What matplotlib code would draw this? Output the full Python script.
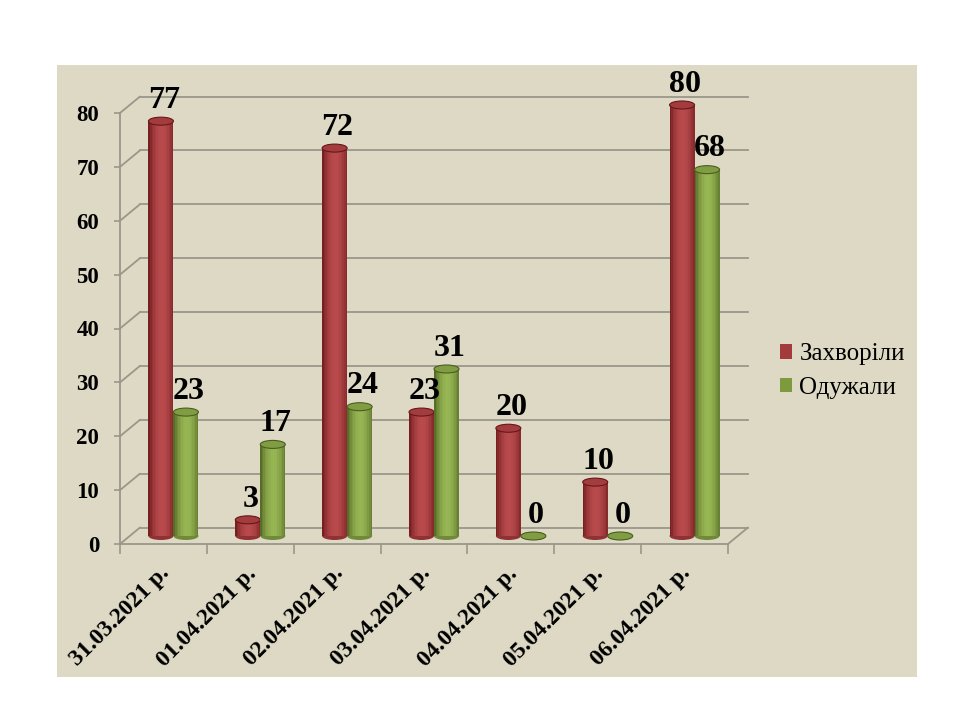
import numpy as np
import matplotlib
matplotlib.use("Agg")
import matplotlib.pyplot as plt
import matplotlib.transforms as mtransforms
from matplotlib.patches import Rectangle, Ellipse, Patch
from matplotlib.colors import to_rgb

# data
dates = ["31.03.2021 р.", "01.04.2021 р.", "02.04.2021 р.", "03.04.2021 р.",
         "04.04.2021 р.", "05.04.2021 р.", "06.04.2021 р."]
sick = [77, 3, 72, 23, 20, 10, 80]
recovered = [23, 17, 24, 31, 0, 0, 68]
series_names = ["Захворіли", "Одужали"]
y_ticks = [0, 10, 20, 30, 40, 50, 60, 70, 80]

SERIF = "Liberation Serif"
panel_col = "#DDD9C4"
grid_col = "#9A968A"
red_dark, red_light = "#681719", "#B84A4C"
green_dark, green_light = "#4A5E1E", "#96B553"

fig = plt.figure(figsize=(9.6, 7.2), dpi=100)
fig.patch.set_facecolor("white")

# beige panel behind everything
fig.patches.append(Rectangle((57 / 960, 1 - 677 / 720), (917 - 57) / 960, (677 - 65) / 720,
                             transform=fig.transFigure, facecolor=panel_col,
                             edgecolor="none", zorder=-5))

ax = fig.add_axes([120 / 960, 1 - 544 / 720, 608 / 960, 431 / 720])
ax.set_facecolor("none")
ax.set_xlim(0, len(dates))
ax.set_ylim(0, 80)

# depth offsets (pixels at dpi 100)
back = ax.transData + mtransforms.ScaledTranslation(0.20, 0.165, fig.dpi_scale_trans)
mid = ax.transData + mtransforms.ScaledTranslation(0.10, 0.08, fig.dpi_scale_trans)

# walls: gridlines on back wall + side wall diagonals
n = len(dates)
for v in y_ticks:
    ax.plot([0, n], [v, v], color=grid_col, lw=1.3, transform=back, clip_on=False, zorder=1)
    ax.annotate("", xy=(0, v), xycoords=back, xytext=(0, v), textcoords="data",
                arrowprops=dict(arrowstyle="-", color=grid_col, lw=1.3,
                                shrinkA=0, shrinkB=0), annotation_clip=False)
ax.annotate("", xy=(n, 0), xycoords=back, xytext=(n, 0), textcoords="data",
            arrowprops=dict(arrowstyle="-", color=grid_col, lw=1.3,
                            shrinkA=0, shrinkB=0), annotation_clip=False)

# axes styling
for s in ["top", "right"]:
    ax.spines[s].set_visible(False)
for s in ["left", "bottom"]:
    ax.spines[s].set_color(grid_col)
    ax.spines[s].set_linewidth(1.3)
ax.set_yticks(y_ticks)
ax.set_yticklabels([str(t) for t in y_ticks], fontfamily=SERIF, fontweight="bold", fontsize=16.5)
ax.tick_params(axis="y", length=4, width=1.2, color=grid_col, pad=11)
ax.set_xticks(np.arange(n + 1))
ax.set_xticklabels([])
ax.tick_params(axis="x", which="major", length=7, width=1.2, color=grid_col)
ax.set_xticks(np.arange(n) + 0.5, minor=True)
ax.set_xticklabels(dates, minor=True, rotation=45, ha="right", va="center",
                   rotation_mode="anchor", fontfamily=SERIF, fontweight="bold", fontsize=17)
ax.tick_params(axis="x", which="minor", length=0, pad=19)
shift = mtransforms.ScaledTranslation(0.03, 0, fig.dpi_scale_trans)
for lab in ax.get_xticklabels(minor=True):
    lab.set_transform(lab.get_transform() + shift)

# cylinders
bw = 25 / 86.86
px_per_unit = 431 / 80
cap_h = 8 / px_per_unit
nstrip = 16
t = (np.arange(nstrip) + 0.5) / nstrip
shade = np.clip(np.sin(np.pi * (t * 0.92 + 0.01)) ** 0.8, 0, 1)


def cylinder(xc, val, dark, light, z):
    d, l = np.array(to_rgb(dark)), np.array(to_rgb(light))
    mid_col = d + 0.72 * (l - d)
    ax.add_patch(Ellipse((xc, 0), bw, cap_h, facecolor=d + 0.5 * (l - d), edgecolor="none",
                         transform=mid, clip_on=False, zorder=z))
    if val > 0:
        sw = bw / nstrip
        for k in range(nstrip):
            c = d + shade[k] * (l - d)
            ax.bar(xc - bw / 2 + (k + 0.5) * sw, val, width=sw * 1.05, color=c,
                   edgecolor="none", transform=mid, clip_on=False, zorder=z)
    ax.add_patch(Ellipse((xc, val), bw, cap_h, facecolor=mid_col, edgecolor=d,
                         lw=0.8, transform=mid, clip_on=False, zorder=z + 0.1))


for i in range(n):
    xc_r = i + 0.5 - bw / 2
    xc_g = i + 0.5 + bw / 2
    cylinder(xc_r, sick[i], red_dark, red_light, 3 + i * 0.01)
    cylinder(xc_g, recovered[i], green_dark, green_light, 3.5 + i * 0.01)
    for xc, v in ((xc_r, sick[i]), (xc_g, recovered[i])):
        ax.annotate(str(v), (xc, v), xycoords=mid, xytext=(2, 4.5),
                    textcoords="offset points", ha="center", va="bottom",
                    fontfamily=SERIF, fontweight="bold", fontsize=23, zorder=6,
                    annotation_clip=False)

handles = [Patch(facecolor="#A33A3C", edgecolor="none"),
           Patch(facecolor="#7D9B3E", edgecolor="none")]
fig.legend(handles, series_names, loc="center left", bbox_to_anchor=(757 / 960, 1 - 371 / 720),
           frameon=False, handlelength=0.5, handleheight=0.5, handletextpad=0.3,
           labelspacing=0.45, prop={"family": SERIF, "size": 18})

fig.savefig("out.png", dpi=100, facecolor="white")
